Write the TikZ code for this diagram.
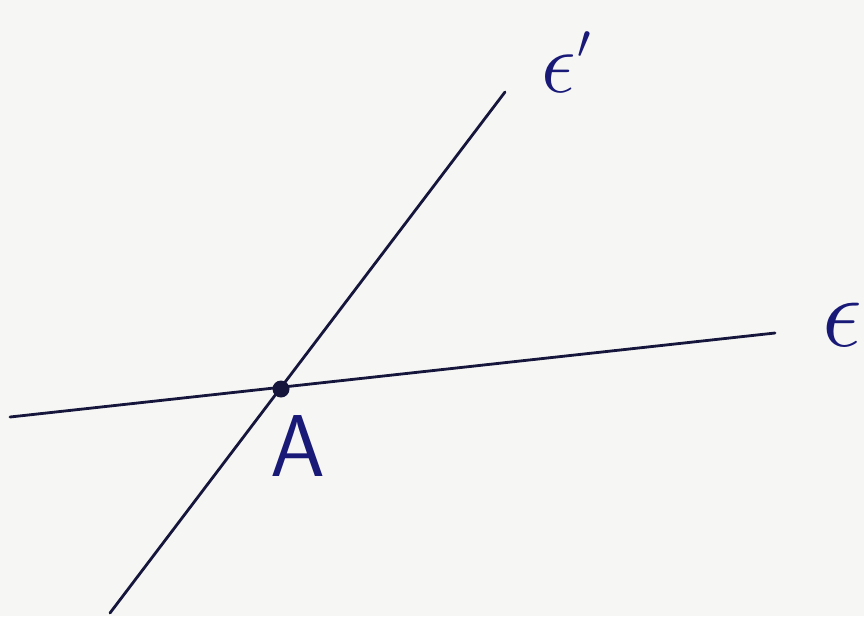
\documentclass[tikz,border=0pt]{standalone}
\usepackage{tikz}
\usetikzlibrary{calc}

\definecolor{paper}{RGB}{246,247,244}
\definecolor{ink}{RGB}{22,22,60}
\definecolor{pen}{RGB}{25,25,120}

\begin{document}
\begin{tikzpicture}[
        x=0.02cm, y=-0.02cm,
        line/.style={draw=ink, line width=1.6pt, line cap=round},
        lbl/.style={text=pen, inner sep=0pt, font=\fontsize{50}{54}\selectfont},
        point/.style={circle, fill=ink, inner sep=0pt, minimum size=0.34cm}
    ]
    
    \fill [paper] (0,0) rectangle (864,616);
    \useasboundingbox (0,0) rectangle (864,616);
    
    \coordinate (eL) at (10,417);
    \coordinate (eR) at (775,333);
    \coordinate (fL) at (110,613);
    \coordinate (fR) at (505,92);
    
    \draw [line] (eL) -- (eR);
    \draw [line] (fL) -- (fR);
    
    \node (A) [point] at (281,389) {};
    \node (labA) [lbl] at (298,446) {\sffamily A};
    \node (labE) [lbl, anchor=base west] at (822,346) {\scalebox{2.3}{$\epsilon$}};
    \node (labF) [lbl, anchor=base west] at (541,92) {\scalebox{2}{$\epsilon$}\hspace{1pt}\raisebox{19pt}{\scalebox{1.1}{$\scriptstyle\prime$}}};
    
    \end{tikzpicture}
\end{document}
